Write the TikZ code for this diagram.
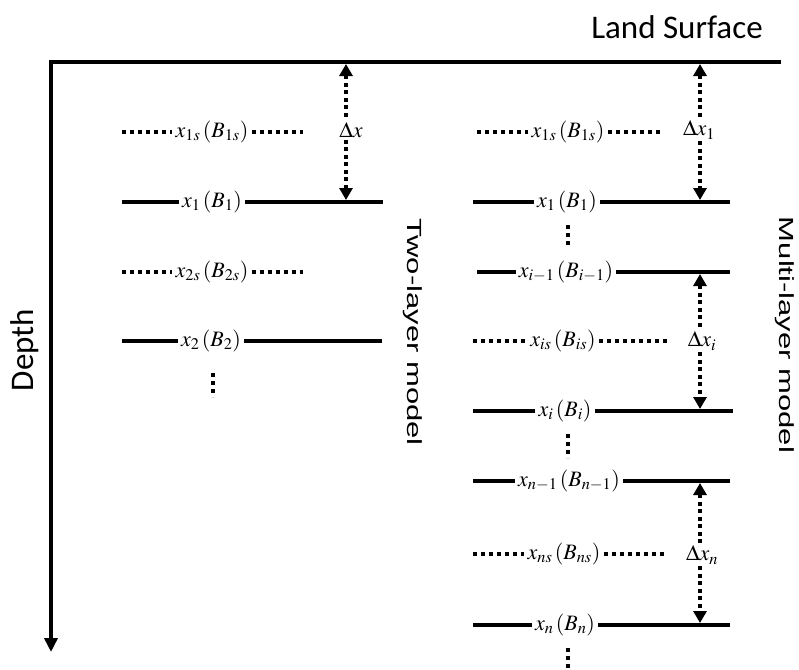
\documentclass[tikz,border=0pt]{standalone}
\usepackage{mathptmx}
\usepackage[no-math]{fontspec}
\setmainfont{Liberation Serif}
\newfontfamily\calibf{Carlito}
\newfontfamily\arialf{Liberation Sans}
\usetikzlibrary{arrows.meta}
\begin{document}
\begin{tikzpicture}[x=1pt,y=-1pt,
  axisline/.style={line width=3.5pt},
  solidl/.style={line width=4pt},
  dotl/.style={line width=4.5pt,dash pattern=on 4pt off 4pt},
  vdotl/.style={line width=4pt,dash pattern=on 4pt off 4pt},
  darr/.style={line width=3.5pt,dash pattern=on 4pt off 3.5pt},
  tipstart/.style={{Triangle[length=12pt,width=13pt]}-},
  tipend/.style={-{Triangle[length=12pt,width=13pt]}},
  lab/.style={inner sep=3pt,font=\fontsize{22}{26}\selectfont},
  dlab/.style={inner sep=2pt,font=\fontsize{22}{26}\selectfont},
  modellab/.style={inner sep=0pt,rotate=-90,font=\arialf\fontsize{31}{36}\selectfont},
  calibl/.style={inner sep=0pt,font=\calibf\fontsize{33}{38}\selectfont}
]
\useasboundingbox (0,0) rectangle (799,669);

% axes
\coordinate (TR) at (781,62);
\coordinate (O) at (51,62);
\coordinate (DB) at (51,652);
\draw[axisline,-{Triangle[length=14pt,width=13pt]}] (TR) -- (O) -- (DB);
\node[calibl,anchor=base] (land) at (677,39) {Land Surface};
\node[calibl,rotate=90] (depth) at (25,350) {Depth};

% ---------- two-layer model ----------
\node[lab] (a1) at (212,132) {$x_{1s}\left(B_{1s}\right)$};
\coordinate (a1l) at (122,132); \coordinate (a1r) at (303,132);
\draw[dotl] (a1l) -- (a1.west); \draw[dotl] (a1.east) -- (a1r);

\node[lab] (a2) at (212,202) {$x_{1}\left(B_{1}\right)$};
\coordinate (a2l) at (122,202); \coordinate (a2r) at (383,202);
\draw[solidl] (a2l) -- (a2.west); \draw[solidl] (a2.east) -- (a2r);

\node[lab] (a3) at (212,272) {$x_{2s}\left(B_{2s}\right)$};
\coordinate (a3l) at (122,272); \coordinate (a3r) at (303,272);
\draw[dotl] (a3l) -- (a3.west); \draw[dotl] (a3.east) -- (a3r);

\node[lab] (a4) at (211,341) {$x_{2}\left(B_{2}\right)$};
\coordinate (a4l) at (122,341); \coordinate (a4r) at (382,341);
\draw[solidl] (a4l) -- (a4.west); \draw[solidl] (a4.east) -- (a4r);

\coordinate (av1) at (213,373); \coordinate (av2) at (213,397);
\draw[vdotl] (av1) -- (av2);

\coordinate (at) at (346,64); \coordinate (ab) at (346,200);
\node[dlab] (ad) at (351,130) {$\Delta x$};
\draw[darr,tipstart] (at) -- (ad.north -| at);
\draw[darr,tipend] (ad.south -| at) -- (ab);

\node[modellab] (two) at (413,332) {\scalebox{1}[0.66]{Two-layer model}};

% ---------- multi-layer model ----------
\node[lab] (b1) at (568,132) {$x_{1s}\left(B_{1s}\right)$};
\coordinate (b1l) at (477,132); \coordinate (b1r) at (660,132);
\draw[dotl] (b1l) -- (b1.west); \draw[dotl] (b1.east) -- (b1r);

\node[lab] (b2) at (567,202) {$x_{1}\left(B_{1}\right)$};
\coordinate (b2l) at (473,202); \coordinate (b2r) at (730,202);
\draw[solidl] (b2l) -- (b2.west); \draw[solidl] (b2.east) -- (b2r);

\coordinate (bv1) at (568,225); \coordinate (bv2) at (568,248);
\draw[vdotl] (bv1) -- (bv2);

\node[lab] (b3) at (566,272) {$x_{i-1}\left(B_{i-1}\right)$};
\coordinate (b3l) at (477,272); \coordinate (b3r) at (730,272);
\draw[solidl] (b3l) -- (b3.west); \draw[solidl] (b3.east) -- (b3r);

\node[lab] (b4) at (563,341) {$x_{is}\left(B_{is}\right)$};
\coordinate (b4l) at (473,341); \coordinate (b4r) at (667,341);
\draw[dotl] (b4l) -- (b4.west); \draw[dotl] (b4.east) -- (b4r);

\node[lab] (b5) at (565,411) {$x_{i}\left(B_{i}\right)$};
\coordinate (b5l) at (473,411); \coordinate (b5r) at (733,411);
\draw[solidl] (b5l) -- (b5.west); \draw[solidl] (b5.east) -- (b5r);

\coordinate (bv3) at (568,434); \coordinate (bv4) at (568,458);
\draw[vdotl] (bv3) -- (bv4);

\node[lab] (b6) at (569,481) {$x_{n-1}\left(B_{n-1}\right)$};
\coordinate (b6l) at (473,481); \coordinate (b6r) at (730,481);
\draw[solidl] (b6l) -- (b6.west); \draw[solidl] (b6.east) -- (b6r);

\node[lab] (b7) at (564,554) {$x_{ns}\left(B_{ns}\right)$};
\coordinate (b7l) at (473,554); \coordinate (b7r) at (665,554);
\draw[dotl] (b7l) -- (b7.west); \draw[dotl] (b7.east) -- (b7r);

\node[lab] (b8) at (565,625) {$x_{n}\left(B_{n}\right)$};
\coordinate (b8l) at (473,625); \coordinate (b8r) at (730,625);
\draw[solidl] (b8l) -- (b8.west); \draw[solidl] (b8.east) -- (b8r);

\coordinate (bv5) at (568,648); \coordinate (bv6) at (568,672);
\draw[vdotl] (bv5) -- (bv6);

% arrows
\coordinate (c1t) at (700,64); \coordinate (c1b) at (700,200);
\node[dlab] (c1) at (699,130) {$\Delta x_{1}$};
\draw[darr,tipstart] (c1t) -- (c1.north -| c1t);
\draw[darr,tipend] (c1.south -| c1t) -- (c1b);

\coordinate (c2t) at (700,274); \coordinate (c2b) at (700,409);
\node[dlab] (c2) at (702,341) {$\Delta x_{i}$};
\draw[darr,tipstart] (c2t) -- (c2.north -| c2t);
\draw[darr,tipend] (c2.south -| c2t) -- (c2b);

\coordinate (c3t) at (700,483); \coordinate (c3b) at (700,623);
\node[dlab] (c3) at (702,555) {$\Delta x_{n}$};
\draw[darr,tipstart] (c3t) -- (c3.north -| c3t);
\draw[darr,tipend] (c3.south -| c3t) -- (c3b);

\node[modellab] (multi) at (785,335) {\scalebox{1}[0.66]{Multi-layer model}};
\end{tikzpicture}
\end{document}
